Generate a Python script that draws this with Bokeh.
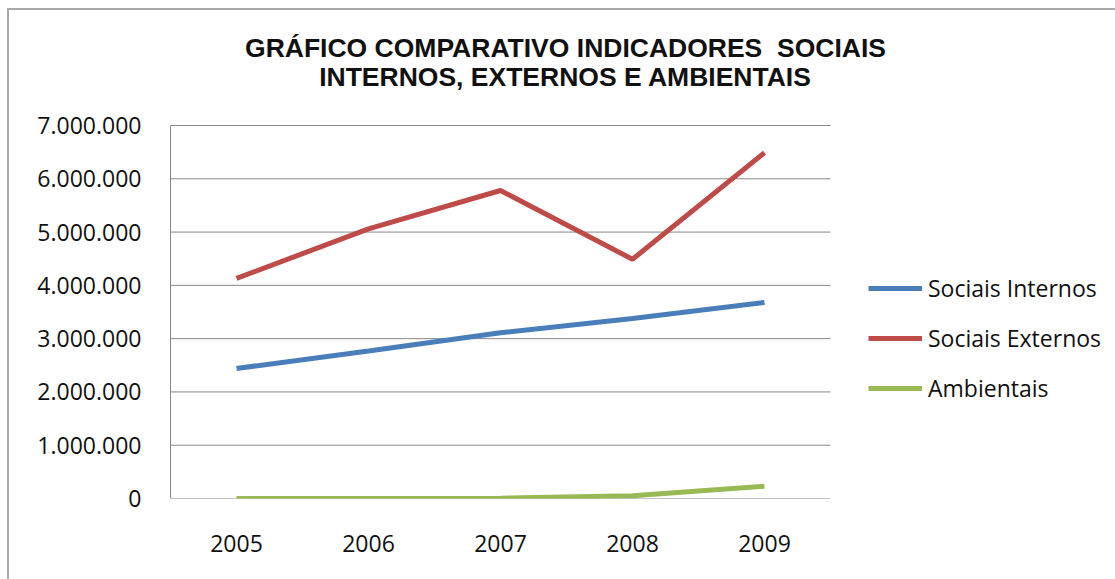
from bokeh.plotting import figure
from bokeh.models import Range1d, FixedTicker, CustomJSTickFormatter, Legend, LegendItem, Label
from bokeh.embed import file_html
from bokeh.resources import INLINE

years = [2005, 2006, 2007, 2008, 2009]
sociais_internos = [2440000, 2770000, 3110000, 3380000, 3680000]
sociais_externos = [4130000, 5060000, 5780000, 4490000, 6490000]
ambientais = [0, 0, 5000, 50000, 230000]
y_ticks = [0, 1000000, 2000000, 3000000, 4000000, 5000000, 6000000, 7000000]
series_names = ["Sociais Internos", "Sociais Externos", "Ambientais"]
title_lines = ["GRÁFICO COMPARATIVO INDICADORES\u00a0 SOCIAIS", "INTERNOS, EXTERNOS E AMBIENTAIS"]

FONT = "Open Sans"
GRID = "#878787"

# layout geometry (pixels)
W, H = 1106, 569
LEFT, BOTTOM = 161, 81
DATA_W, DATA_H = 660, 373          # width of the 5 categories, height of 0..7M
frame_w, frame_h = W - LEFT, H - BOTTOM
x_start = years[0] - 0.5
x_end = x_start + len(years) * frame_w / DATA_W
y_top = y_ticks[-1] * frame_h / DATA_H

p = figure(width=W, height=H, title=None,
           x_range=Range1d(x_start, x_end), y_range=Range1d(0, y_top),
           output_backend="svg", toolbar_location=None,
           min_border_left=LEFT, min_border_right=0, min_border_top=0, min_border_bottom=BOTTOM)
p.outline_line_color = None
p.border_fill_color = "white"
p.background_fill_color = "white"
p.grid.visible = False

# axes
p.yaxis.ticker = FixedTicker(ticks=y_ticks)
p.yaxis.bounds = (y_ticks[0], y_ticks[-1])
p.yaxis.formatter = CustomJSTickFormatter(code="""
return Math.round(tick).toString().replace(/\\B(?=(\\d{3})+(?!\\d))/g, ".");
""")
p.xaxis.ticker = FixedTicker(ticks=years)
p.xaxis.axis_line_color = None
p.yaxis.axis_line_color = GRID
for ax in (p.xaxis, p.yaxis):
    ax.major_tick_line_color = None
    ax.minor_tick_line_color = None
    ax.major_label_text_font = FONT
    ax.major_label_text_font_size = "23px"
    ax.major_label_text_color = "#111111"
p.yaxis.major_label_standoff = 23
p.xaxis.major_label_standoff = 30

# horizontal gridlines over the category area
n = len(y_ticks)
p.segment(x0=[years[0] - 0.5] * n, x1=[years[-1] + 0.5] * n, y0=y_ticks, y1=y_ticks,
          line_color=GRID, line_width=1)

r1 = p.line(years, sociais_internos, line_color="#4A7EBB", line_width=5)
r2 = p.line(years, sociais_externos, line_color="#BE4B48", line_width=5)
r3 = p.line(years, ambientais, line_color="#98B954", line_width=5)

legend = Legend(items=[LegendItem(label=series_names[0], renderers=[r1]),
                       LegendItem(label=series_names[1], renderers=[r2]),
                       LegendItem(label=series_names[2], renderers=[r3])],
                location=(698, 94), orientation="vertical",
                glyph_width=54, glyph_height=30, label_height=30,
                label_standoff=6, spacing=18, padding=0, margin=0,
                label_text_font=FONT, label_text_font_size="23px",
                label_text_color="#111111",
                border_line_color=None, background_fill_alpha=0)
p.add_layout(legend)

for txt, yy in zip(title_lines, [451, 422]):
    p.add_layout(Label(x=395, y=yy, x_units="screen", y_units="screen", text=txt,
                       text_align="center", text_baseline="middle",
                       text_font="Liberation Sans", text_font_style="bold",
                       text_font_size="26.5px", text_color="#111111"))

html = file_html(p, INLINE)
# wrap the figure in a bordered box (replace the real <body> tags, i.e. the last occurrences)
i = html.rfind("<body>")
html = (html[:i] + "<body style='margin:0; overflow:hidden'><div style='margin:8px 0 0 7px; "
        "border-left:2px solid #a8a8a8; border-top:2px solid #a8a8a8; display:inline-block; "
        "vertical-align:top'>" + html[i + len("<body>"):])
j = html.rfind("</body>")
html = html[:j] + "</div></body>" + html[j + len("</body>"):]
open("out.html", "w").write(html)
